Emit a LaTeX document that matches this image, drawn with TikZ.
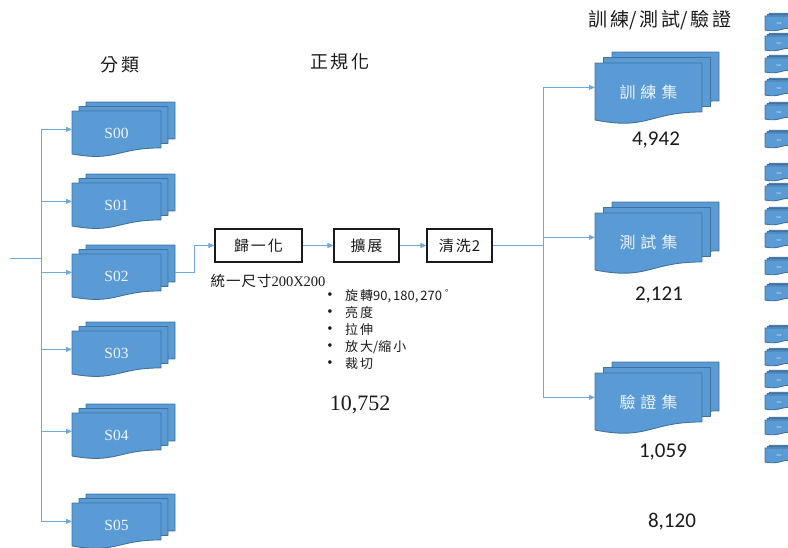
\documentclass[tikz,border=0pt]{standalone}
\usepackage{fontspec}
\setmainfont{Liberation Serif}
\newfontfamily\cjk{Noto Sans CJK TC}
\newfontfamily\numfont{Carlito}
\usetikzlibrary{arrows.meta}

\definecolor{docfill}{HTML}{5B9BD5}
\definecolor{docedge}{HTML}{41719C}
\definecolor{linkblue}{HTML}{6FA8DC}
\definecolor{doctext}{HTML}{EEF4FB}
\definecolor{ink}{HTML}{1A1A1A}

\tikzset{
  docsty/.style={fill=docfill, draw=docedge, line width=0.9pt, line join=round},
  docbox/.style={inner sep=0pt, outer sep=0pt},
  conn/.style={draw=linkblue, line width=0.9pt},
  arr/.style={-{Triangle[length=6pt,width=5pt]}},
  procbox/.style={draw=ink, line width=1.1pt, fill=white, minimum height=33pt,
    inner sep=0pt, font=\cjk\fontsize{15}{15}\selectfont, text=ink},
  lbl/.style={text=doctext, font=\fontsize{15.5}{15.5}\selectfont},
  setlbl/.style={text=doctext, font=\cjk\fontsize{16}{16}\selectfont},
  minilbl/.style={text=doctext, font=\fontsize{3}{3}\selectfont},
  title/.style={text=ink, font=\cjk\fontsize{18}{18}\selectfont},
  count/.style={text=ink, font=\numfont\fontsize{21}{21}\selectfont},
  note/.style={text=ink, font=\cjk\fontsize{13}{13}\selectfont, anchor=west, inner sep=0pt},
}

% one page of a document: top-left corner, width, height; wavy lower edge
\newcommand\docshape[4]{%
  \filldraw[docsty] ({#1},{#2}) -- ({#1+#3},{#2}) -- ({#1+#3},{#2+0.802*#4})
    .. controls ({#1+0.5*#3},{#2+0.802*#4}) and ({#1+0.5*#3},{#2+1.107*#4}) ..
    ({#1},{#2+0.934*#4}) -- cycle;}

% a stack of three pages with a named node over the front page
% #1 name, #2 x, #3 y, #4 width, #5 height, #6 dx, #7 dy, #8 label style, #9 label
\newcommand\multidoc[9]{%
  \docshape{#2+2*#6}{#3-2*#7}{#4}{#5}%
  \docshape{#2+#6}{#3-#7}{#4}{#5}%
  \docshape{#2}{#3}{#4}{#5}%
  \node[docbox, minimum width={#4}, minimum height={0.8*#5}, anchor=north west] (#1) at ({#2},{#3}) {};
  \node[#8] (#1-t) at ([yshift={-0.08*#5}]#1.center) {#9};}

\begin{document}
\begin{tikzpicture}[x=1pt, y=-1pt]
\useasboundingbox (0,0) rectangle (788,547);
\clip (0,0) rectangle (788,547);

% column titles
\node[title] (t-cls) at (120,65) {分\hspace{4pt}類};
\node[title] (t-norm) at (340,62) {正\hspace{3pt}規\hspace{3pt}化};
\node[title, font=\cjk\fontsize{19}{19}\selectfont] (t-split) at (660,20)
  {訓\hspace{3pt}練/\hspace{3pt}測\hspace{3pt}試/\hspace{3pt}驗\hspace{3pt}證};

% class folders
\multidoc{s00}{72}{111}{89}{46}{7}{4.5}{lbl}{S00}
\multidoc{s01}{72}{183}{89}{46}{7}{4.5}{lbl}{S01}
\multidoc{s02}{72}{254}{89}{46}{7}{4.5}{lbl}{S02}
\multidoc{s03}{72}{331}{89}{46}{7}{4.5}{lbl}{S03}
\multidoc{s04}{72}{413}{89}{46}{7}{4.5}{lbl}{S04}
\multidoc{s05}{72}{503}{89}{46}{7}{4.5}{lbl}{S05}

% input bus feeding the classes
\coordinate (inL) at (10,258);
\coordinate (busL) at (41,258);
\draw[conn] (inL) -- (busL);
\foreach \s in {s00,s01,s02,s03,s04,s05}
  \draw[conn, arr] (busL) |- (\s.west);

% normalisation pipeline
\node[procbox, minimum width=87pt] (norm) at (258.5,245.5) {歸\hspace{2pt}一\hspace{2pt}化};
\node[procbox, minimum width=65pt] (aug) at (366.5,245.5) {擴\hspace{2pt}展};
\node[procbox, minimum width=65pt] (clean) at (459.5,245.5) {清\hspace{2pt}洗\hspace{1pt}2};

\draw[conn, arr] ([xshift=14pt]s02.east) -- ++(19,0) |- (norm.west);
\draw[conn, arr] (norm.east) -- (aug.west);
\draw[conn, arr] (aug.east) -- (clean.west);

\node[text=ink, font=\fontsize{14.5}{14.5}\selectfont, inner sep=0pt] (size) at (268,281)
  {{\cjk 統\hspace{1pt}一\hspace{1pt}尺\hspace{1pt}寸}200X200};

\foreach \i/\t/\y in {1/{旋\hspace{2pt}轉90,\hspace{2pt}180,\hspace{2pt}270\hspace{3pt}\textsuperscript{°}}/296,
                      2/{亮\hspace{2pt}度}/313,
                      3/{拉\hspace{2pt}伸}/330,
                      4/{放\hspace{2pt}大/縮\hspace{2pt}小}/347,
                      5/{裁\hspace{2pt}切}/364} {
  \node[text=ink, font=\fontsize{15}{15}\selectfont, inner sep=0pt] (b\i) at (330,\y) {\textbullet};
  \node[note] (bt\i) at (345,\y) {\t};
}

\node[text=ink, font=\fontsize{22}{22}\selectfont] (n-aug) at (360,405) {10,752};

% split sets
\multidoc{train}{595}{63}{107}{61}{8.5}{5.5}{setlbl}{訓\hspace{5pt}練\hspace{5pt}集}
\multidoc{test}{595}{213}{107}{61}{8.5}{5.5}{setlbl}{測\hspace{5pt}試\hspace{5pt}集}
\multidoc{val}{595}{373}{107}{61}{8.5}{5.5}{setlbl}{驗\hspace{5pt}證\hspace{5pt}集}

\coordinate (busR) at (543,245.5);
\draw[conn] (clean.east) -- (busR);
\draw[conn, arr] (busR) |- (train.west);
\draw[conn, arr] (busR) |- (test.west);
\draw[conn, arr] (busR) |- (val.west);

\node[count] (n-train) at (656,140) {4,942};
\node[count] (n-test) at (659,295) {2,121};
\node[count] (n-val) at (663,452) {1,059};
\node[count] (n-all) at (672,522) {8,120};

% per-class folders inside each set, cut by the page edge
\foreach \g/\ys in {a/{16,36,58,81,105,133}, b/{166,186,210,233,260,286}, c/{328,351,373,395,420,448}} {
  \foreach \y [count=\k from 0] in \ys {
    \multidoc{m\g\k}{765}{\y}{28}{15}{2.2}{1.4}{minilbl}{S0\k}
  }
}
\end{tikzpicture}
\end{document}
